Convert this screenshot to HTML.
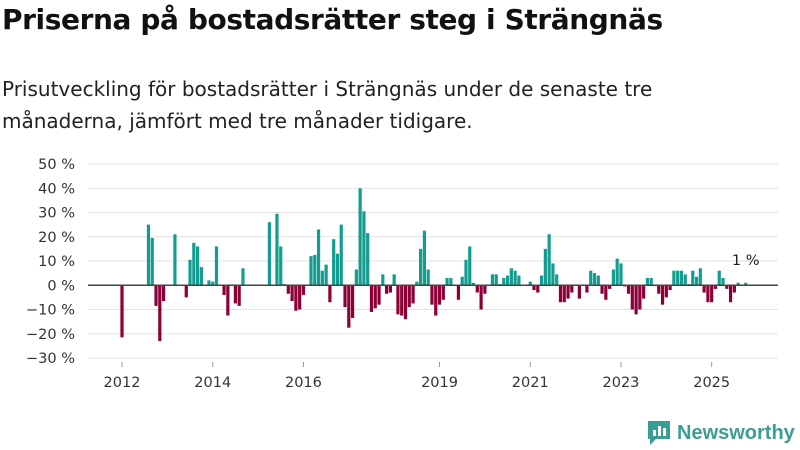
<!DOCTYPE html>
<html><head><meta charset="utf-8"><style>
body{margin:0;width:800px;height:450px;background:#fff;font-family:"DejaVu Sans",sans-serif;overflow:hidden;position:relative}
#title{position:absolute;left:2px;top:3px;font-size:28px;font-weight:bold;color:#111;margin:0;letter-spacing:-0.4px;white-space:nowrap}
#sub{position:absolute;left:2px;top:73px;font-size:20px;line-height:32px;color:#222;width:690px}
#logo{position:absolute;left:646px;top:419px;display:flex;align-items:center;gap:5px;color:#3a9e94;font-size:20px;font-weight:bold;font-family:"Liberation Sans",sans-serif;white-space:nowrap}
</style></head><body>
<h1 id="title">Priserna på bostadsrätter steg i Strängnäs</h1>
<div id="sub">Prisutveckling för bostadsrätter i Strängnäs under de senaste tre månaderna, jämfört med tre månader tidigare.</div>
<svg id="chart" width="800" height="450" style="position:absolute;left:0;top:0"></svg>
<div id="logo"><svg width="26" height="28" viewBox="0 0 26 28"><path d="M2 2h22v18H10l-6 6v-6H2z" fill="#3a9e94"/><rect x="7" y="11" width="3" height="6" fill="#fff"/><rect x="12" y="7" width="3" height="10" fill="#fff"/><rect x="17" y="9" width="3" height="8" fill="#fff"/></svg><span>Newsworthy</span></div>
<script>
const yTicks=[50,40,30,20,10,0,-10,-20,-30];
const yTickLabels=["50 %","40 %","30 %","20 %","10 %","0 %","−10 %","−20 %","−30 %"];
const xTickMonths=[0,24,48,84,108,132,156];
const xTickLabels=["2012","2014","2016","2019","2021","2023","2025"];
const values=[-21.5,null,null,null,null,null,null,25,19.5,-8.5,-23,-6.5,null,null,21,null,null,-5,10.5,17.5,16,7.5,null,2,1.5,16,null,-4,-12.5,null,-7.5,-8.5,7,null,null,null,null,null,null,26,null,29.5,16,0.5,-3.5,-6.5,-10.5,-10,-4,null,12,12.5,23,6,8.5,-7,19,13,25,-9,-17.5,-13.5,6.5,40,30.5,21.5,-11,-9.5,-8,4.5,-3.5,-3,4.5,-12,-12.5,-14,-9,-7.5,1.5,15,22.5,6.5,-8,-12.5,-8,-6,3,3,null,-6,3.5,10.5,16,1,-3,-10,-3.5,null,4.5,4.5,0.5,3,4,7,6,4,null,null,1.5,-2,-3,4,15,21,9,4.5,-7,-7,-5.5,-3,null,-5.5,null,-3,6,5,4,-3.5,-6,-1.5,6.5,11,9,-0.5,-3.5,-10,-12,-10,-5.5,3,3,null,-3.5,-8,-5,-2,6,6,6,4.5,0.5,6,3.5,7,-3,-7,-7,-1.5,6,3,-1.5,-7,-3,1,null,1];
const lastLabel="1 %";
const NS="http://www.w3.org/2000/svg";
const svg=document.getElementById('chart');
const y=v=>285.25-v*2.425;
const x=i=>122+i*3.78;
function mk(t,a){const e=document.createElementNS(NS,t);for(const k in a)e.setAttribute(k,a[k]);svg.appendChild(e);return e;}
yTicks.forEach((t,i)=>{
  const g=mk('line',{x1:88,x2:778,y1:y(t),y2:y(t),stroke:'#e3e3e3','stroke-width':1});
  
  
  const l=mk('text',{x:75,y:y(t)+5,'text-anchor':'end','font-size':14.5,fill:'#333','font-family':'DejaVu Sans, sans-serif'});
  l.textContent=yTickLabels[i];
  
  
});
values.forEach((v,i)=>{
  if(v===null)return;
  const top=Math.min(y(v),y(0)),h=Math.abs(y(v)-y(0));
  const r=mk('rect',{x:x(i)-1.6,y:top,width:3.2,height:Math.max(h,0.6),fill:v>=0?'#139c90':'#8c0037'});
  
  
});
const ax=mk('line',{x1:88,x2:778,y1:y(0),y2:y(0),stroke:'#444','stroke-width':1.5});


xTickMonths.forEach((m,i)=>{
  const tk=mk('line',{x1:x(m),x2:x(m),y1:362,y2:367,stroke:'#999','stroke-width':1});
  
  
  const l=mk('text',{x:x(m),y:387,'text-anchor':'middle','font-size':14.5,fill:'#333','font-family':'DejaVu Sans, sans-serif'});
  l.textContent=xTickLabels[i];
  
  
});
const li=values.length-1;
const lab=mk('text',{x:x(li),y:y(values[li])-18,'text-anchor':'middle','font-size':14.5,fill:'#222','font-family':'DejaVu Sans, sans-serif'});
lab.textContent=lastLabel;


</script>
</body></html>
